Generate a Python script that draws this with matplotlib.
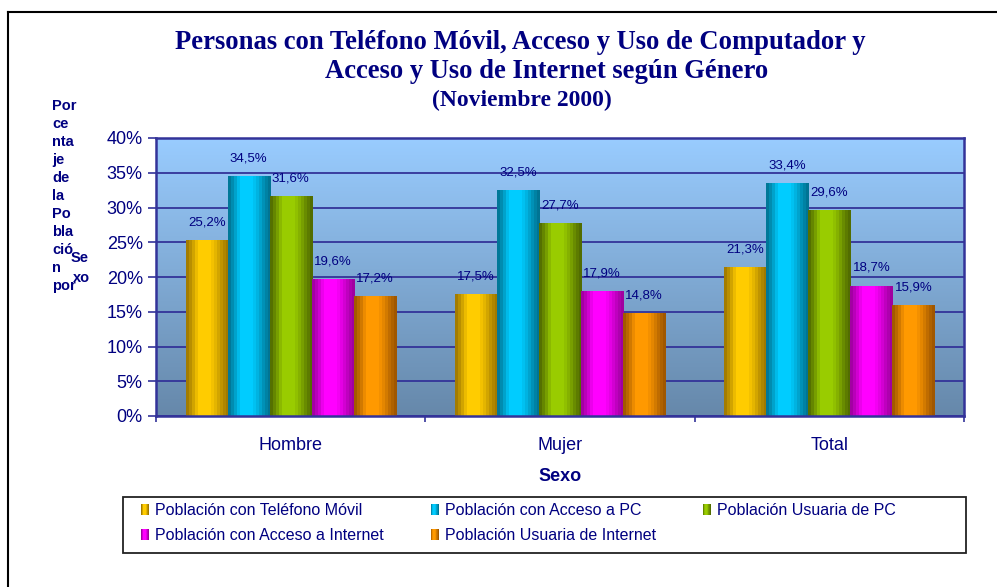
import matplotlib
matplotlib.use("Agg")
import matplotlib.pyplot as plt
import numpy as np
from matplotlib.patches import Rectangle
from matplotlib.legend_handler import HandlerBase
from matplotlib.lines import Line2D
from matplotlib.colors import to_rgb

categories = ["Hombre", "Mujer", "Total"]
series = ["Población con Teléfono Móvil", "Población con Acceso a PC",
          "Población Usuaria de PC", "Población con Acceso a Internet",
          "Población Usuaria de Internet"]
movil = [25.2, 17.5, 21.3]
acceso_pc = [34.5, 32.5, 33.4]
usuaria_pc = [31.6, 27.7, 29.6]
acceso_internet = [19.6, 17.9, 18.7]
usuaria_internet = [17.2, 14.8, 15.9]
values = [movil, acceso_pc, usuaria_pc, acceso_internet, usuaria_internet]
yticks = [0, 5, 10, 15, 20, 25, 30, 35, 40]
ylabel_parts = ["Por", "ce", "nta", "je", "de", "la", "Po", "bla", "ció", "n", "por"]

# dark edge / bright centre of each "cylinder"
darks = ["#997300", "#006e8c", "#4d6600", "#990099", "#995200"]
brights = ["#ffcc00", "#00ccff", "#99cc00", "#ff00ff", "#ff9900"]

navy = "#000080"
sans = "Liberation Sans"
serif = "Liberation Serif"

def band_colors(dark, bright, n=14):
    pos = (np.arange(n) + 0.5) / n
    t = np.interp(pos, [0, 0.15, 0.3, 0.55, 0.7, 0.85, 1.0],
                  [0.0, 0.45, 1.0, 1.0, 0.7, 0.3, 0.0])
    d = np.array(to_rgb(dark))
    b = np.array(to_rgb(bright))
    return [tuple(d + ti * (b - d)) for ti in t]

class GradHandler(HandlerBase):
    def __init__(self, cmap):
        super().__init__()
        self.cmap = cmap

    def create_artists(self, legend, orig_handle, xdescent, ydescent,
                       width, height, fontsize, trans):
        cols = self.cmap[orig_handle.get_label()]
        n = len(cols)
        arts = []
        for i, c in enumerate(cols):
            arts.append(Rectangle((-xdescent + i * width / n, -ydescent),
                                  width / n, height, facecolor=c,
                                  edgecolor="none", transform=trans))
        return arts

W, H = 997, 587
fig = plt.figure(figsize=(W / 100, H / 100), dpi=100)
ax = fig.add_axes([156 / W, 1 - 416 / H, (964 - 156) / W, (416 - 138) / H])

# plot area background gradient
top = np.array(to_rgb("#99ccff"))
bot = np.array(to_rgb("#6688aa"))
g = np.linspace(0, 1, 256)[:, None]
bg = (top + g * (bot - top))[:, None, :]
ax.imshow(bg, extent=[0, 1, 0, 1], transform=ax.transAxes, aspect="auto",
          zorder=0, interpolation="bilinear")

x = np.arange(len(categories))
width = 0.156
handles = []
cmap = {}
for i, (name, vals) in enumerate(zip(series, values)):
    offs = x + (i - 2) * width
    bars = ax.bar(offs, vals, width, color=brights[i], zorder=2, label=name)
    cols = band_colors(darks[i], brights[i])
    cmap[name] = cols
    img = np.array(cols)[None, :, :]
    for b, v in zip(bars, vals):
        ax.imshow(img, extent=[b.get_x(), b.get_x() + b.get_width(), 0, v],
                  aspect="auto", zorder=2.1, interpolation="nearest")
        ax.annotate(f"{v:.1f}".replace(".", ",") + "%",
                    (b.get_x() + b.get_width() / 2, v),
                    xytext=(0, 13), textcoords="offset points",
                    ha="center", va="center", fontsize=9.5,
                    color=navy, family=sans, zorder=3)
    handles.append(Rectangle((0, 0), 1, 1, label=name))

ax.set_xlim(-0.5, len(categories) - 0.5)
ax.set_ylim(0, 40)
ax.set_axisbelow(True)
ax.yaxis.grid(True, color="#333399", linewidth=1.3)

ax.set_yticks(yticks)
ax.set_yticklabels([f"{t}%" for t in yticks], fontsize=13, color=navy,
                   family=sans)
ax.set_xticks(x)
ax.set_xticklabels(categories, fontsize=13, color=navy, family=sans)
ax.set_xticks(np.arange(len(categories) + 1) - 0.5, minor=True)
ax.tick_params(axis="x", which="major", length=0, pad=15)
ax.tick_params(axis="x", which="minor", length=4, width=1.2, color="#333399")
ax.tick_params(axis="y", length=6, width=1.2, color="#333399", pad=3.5)
for s in ax.spines.values():
    s.set_color("#333399")
    s.set_linewidth(1.8)
ax.set_xlabel("Sexo", fontsize=13, fontweight="bold", color=navy,
              family=sans, labelpad=10)

# title
title_lines = ["Personas con Teléfono Móvil, Acceso y Uso de Computador y",
               "Acceso y Uso de Internet según Género",
               "(Noviembre 2000)"]
for line, cx, by, fs in zip(title_lines, [520, 547, 522], [49, 78, 106],
                            [19.2, 19.2, 17]):
    fig.text(cx / W, 1 - by / H, line, ha="center", va="baseline",
             fontsize=fs, fontweight="bold", color=navy, family=serif)

# broken-up y axis title
for k, part in enumerate(ylabel_parts):
    fig.text(52 / W, 1 - (106 + 18 * k) / H, part, ha="left", va="center",
             fontsize=10.5, fontweight="bold", color=navy, family=sans)
fig.text(71 / W, 1 - 258 / H, "Se", ha="left", va="center",
         fontsize=10.5, fontweight="bold", color=navy, family=sans)
fig.text(73 / W, 1 - 278 / H, "xo", ha="left", va="center",
         fontsize=10.5, fontweight="bold", color=navy, family=sans)

# legend (row-major order as in the original)
fig.patches.append(Rectangle((123 / W, 1 - 553 / H), (966 - 123) / W,
                             (553 - 497) / H, transform=fig.transFigure,
                             facecolor="white", edgecolor="#222222",
                             linewidth=1.3, zorder=1))
order = [0, 3, 1, 4, 2]
leg = fig.legend(handles=[handles[k] for k in order],
                 labels=[series[k] for k in order], ncol=3, loc="upper left",
                 bbox_to_anchor=(141 / W, 1 - 503 / H, (896 - 141) / W, 0),
                 mode="expand", frameon=False, borderpad=0, borderaxespad=0,
                 handlelength=0.5, handleheight=0.7, handletextpad=0.4,
                 labelspacing=0.62, columnspacing=1.0,
                 prop={"family": sans, "size": 11.5},
                 handler_map={Rectangle: GradHandler(cmap)})
for t in leg.get_texts():
    t.set_color(navy)

# outer frame
fig.add_artist(Line2D([8 / W, 8 / W], [0, 1 - 12 / H], color="black",
                      linewidth=1.5, transform=fig.transFigure))
fig.add_artist(Line2D([8 / W, 1], [1 - 12 / H, 1 - 12 / H], color="black",
                      linewidth=1.5, transform=fig.transFigure))

fig.savefig("out.png", dpi=100)
